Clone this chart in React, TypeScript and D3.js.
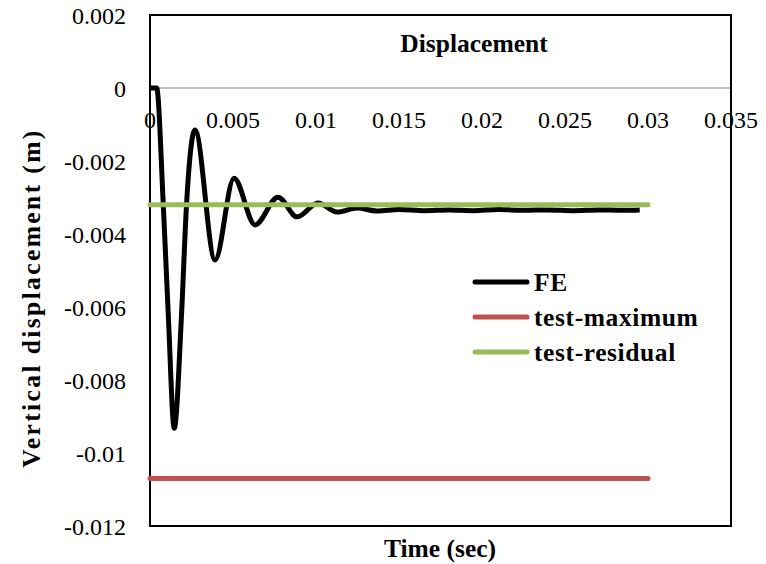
import React from "react";
import * as d3 from "d3";

// ---- data ----
const feTime = [
  0, 0.0004, 0.0008, 0.0011, 0.00146, 0.0019, 0.0022, 0.00271, 0.00392, 0.00506,
  0.00633, 0.00771, 0.00886, 0.01012, 0.01127, 0.01247, 0.01367, 0.015, 0.0165,
  0.018, 0.0195, 0.021, 0.0225, 0.024, 0.0255, 0.027, 0.0285, 0.0295,
];
const feDisp = [
  0, 0, -0.0032, -0.0062, -0.00932, -0.0062, -0.0032, -0.00115, -0.00471, -0.00247,
  -0.00375, -0.00299, -0.00353, -0.00315, -0.0034, -0.00329, -0.00337, -0.00333,
  -0.00336, -0.00334, -0.00336, -0.00333, -0.00335, -0.00334, -0.00336, -0.00334,
  -0.00335, -0.00334,
];
const testTime = [0, 0.03];
const testMaximum = [-0.0107, -0.0107];
const testResidual = [-0.0032, -0.0032];
const xTicks = [0, 0.005, 0.01, 0.015, 0.02, 0.025, 0.03, 0.035];
const yTicks = [0.002, 0, -0.002, -0.004, -0.006, -0.008, -0.01, -0.012];
const legendNames = ["FE", "test-maximum", "test-residual"];
const legendColors = ["#000000", "#C0504D", "#9BBB59"];

const W = 766;
const H = 564;
const left = 150;
const right = 731;
const top = 15;
const bottom = 526;
const font = '"Times New Roman", Times, Tinos, "Liberation Serif", "DejaVu Serif", "Noto Serif", serif';

export default function App() {
  const x = d3.scaleLinear().domain([0, 0.035]).range([left, right]);
  const y = d3.scaleLinear().domain([-0.012, 0.002]).range([bottom, top]);

  const line = d3
    .line<[number, number]>()
    .x((d) => x(d[0]))
    .y((d) => y(d[1]))
    .curve(d3.curveMonotoneX);
  const straight = d3
    .line<[number, number]>()
    .x((d) => x(d[0]))
    .y((d) => y(d[1]));

  const fePts: [number, number][] = feTime.map((t, i) => [t, feDisp[i]]);
  const maxPts: [number, number][] = testTime.map((t, i) => [t, testMaximum[i]]);
  const resPts: [number, number][] = testTime.map((t, i) => [t, testResidual[i]]);

  const fmt = (v: number) => (v === 0 ? "0" : String(+v.toFixed(3)));
  const ts = { fontFamily: font };

  return (
    <svg
      width={W}
      height={H}
      style={{ position: "absolute", left: 0, top: 0, background: "#fff", fontFamily: font }}
    >
      <rect x={0} y={0} width={W} height={H} fill="#fff" />
      {/* zero axis */}
      <line x1={left} x2={right} y1={y(0)} y2={y(0)} stroke="#868686" strokeWidth={1.2} />
      {/* plot border */}
      <rect x={left} y={top} width={right - left} height={bottom - top} fill="none" stroke="#000" strokeWidth={2} />

      {/* y tick labels */}
      {yTicks.map((v) => (
        <text key={"y" + v} style={ts} x={126} y={y(v) + 8.5} textAnchor="end" fontSize={24} fill="#000">
          {fmt(v)}
        </text>
      ))}
      {/* x tick labels */}
      {xTicks.map((v) => (
        <text key={"x" + v} style={ts} x={x(v)} y={128} textAnchor="middle" fontSize={24} fill="#000">
          {fmt(v)}
        </text>
      ))}

      {/* series */}
      <path d={straight(maxPts) || ""} fill="none" stroke={legendColors[1]} strokeWidth={5} strokeLinecap="round" />
      <path d={line(fePts) || ""} fill="none" stroke={legendColors[0]} strokeWidth={5} strokeLinejoin="round" />
      <path d={straight(resPts) || ""} fill="none" stroke={legendColors[2]} strokeWidth={5} strokeLinecap="round" />

      {/* title */}
      <text style={ts} x={474} y={52} textAnchor="middle" fontSize={25.5} fontWeight="bold" fill="#000">
        Displacement
      </text>

      {/* axis titles */}
      <text style={ts} x={440} y={557} textAnchor="middle" fontSize={25.5} fontWeight="bold" fill="#000">
        Time (sec)
      </text>
      <text
        style={ts}
        transform={`translate(40,298) rotate(-90)`}
        textAnchor="middle"
        fontSize={25.5}
        fontWeight="bold"
        letterSpacing={2.4}
        fill="#000"
      >
        Vertical displacement (m)
      </text>

      {/* legend */}
      {legendNames.map((n, i) => {
        const ly = 282 + i * 35;
        return (
          <g key={n}>
            <line x1={475} x2={527} y1={ly} y2={ly} stroke={legendColors[i]} strokeWidth={5} strokeLinecap="round" />
            <text style={ts} x={534} y={ly + 9} fontSize={25.5} fontWeight="bold" letterSpacing={0.6} fill="#000">
              {n}
            </text>
          </g>
        );
      })}
    </svg>
  );
}
